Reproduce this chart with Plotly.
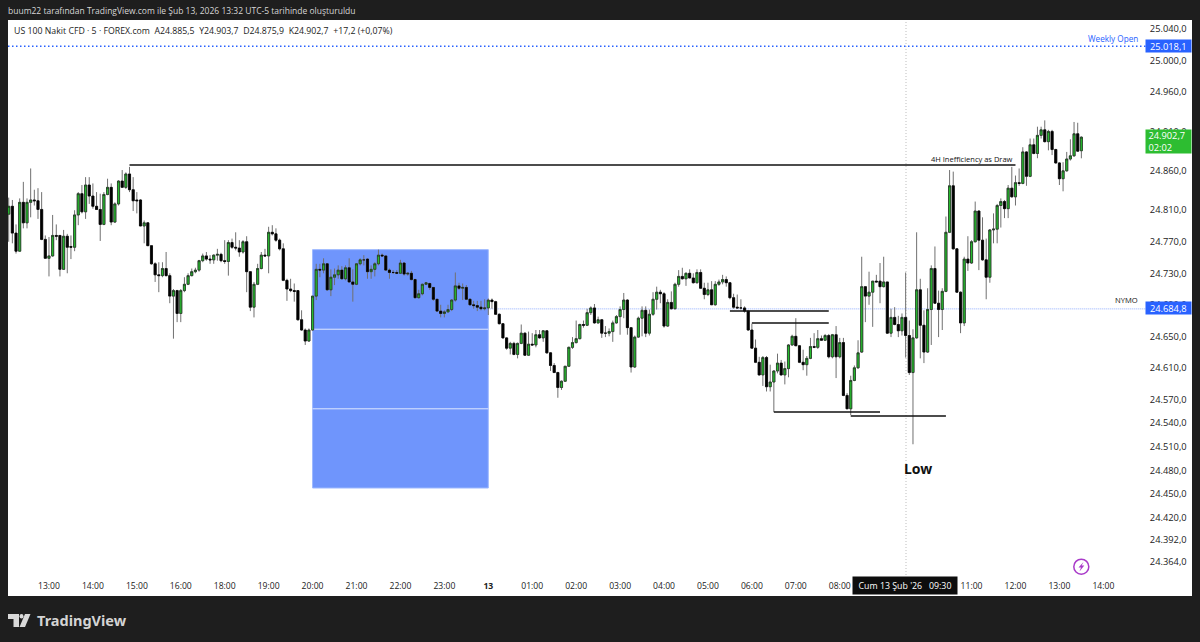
import pandas as pd
import plotly.graph_objects as go

opens = [
24805,24815,24781,24758,24820,24794,24820,24823,24822,24811,
24773,24749,24752,24778,24778,24735,24777,24764,24763,24804,
24831,24808,24842,24828,24815,24811,24792,24830,24839,24795,
24818,24847,24839,24856,24836,24823,24823,24790,24794,24765,
24742,24728,24727,24736,24727,24701,24708,24679,24708,24716,
24727,24732,24734,24746,24752,24748,24747,24753,24754,24746,
24745,24769,24763,24762,24757,24770,24732,24687,24716,24736,
24753,24752,24782,24780,24772,24761,24721,24710,24708,24708,
24671,24658,24644,24658,24701,24735,24734,24742,24709,24725,
24728,24734,24723,24737,24719,24716,24742,24747,24748,24732,
24735,24742,24753,24752,24734,24731,24731,24730,24743,24729,
24730,24722,24699,24704,24716,24717,24712,24697,24682,24679,
24681,24684,24696,24714,24711,24712,24697,24690,24689,24687,
24685,24686,24696,24694,24678,24666,24648,24635,24641,24627,
24641,24654,24626,24640,24639,24652,24648,24657,24629,24613,
24604,24585,24593,24612,24636,24642,24647,24665,24664,24680,
24686,24667,24671,24654,24654,24656,24667,24675,24684,24696,
24661,24611,24649,24673,24683,24654,24678,24697,24706,24704,
24663,24693,24685,24716,24726,24723,24730,24724,24718,24731,
24711,24703,24709,24690,24716,24719,24722,24718,24699,24687,
24686,24686,24682,24658,24635,24617,24601,24623,24586,24592,
24606,24616,24601,24609,24639,24650,24638,24617,24614,24622,
24637,24636,24647,24645,24651,24624,24652,24624,24642,24575,
24558,24594,24610,24630,24713,24701,24706,24720,24720,24713,
24719,24654,24674,24665,24657,24674,24651,24604,24648,24709,
24664,24630,24684,24736,24692,24684,24707,24782,24841,24761,
24706,24667,24748,24743,24770,24809,24772,24747,24725,24785,
24786,24816,24821,24812,24838,24827,24845,24844,24884,24853,
24893,24882,24905,24912,24897,24910,24887,24870,24850,24860,
24875,24879,24907,24885.5]
closes = [
24815,24781,24758,24820,24794,24820,24823,24822,24811,24773,
24749,24752,24778,24777,24735,24777,24763,24763,24804,24831,
24808,24842,24828,24815,24811,24792,24830,24839,24795,24818,
24847,24839,24856,24836,24822,24822,24790,24794,24765,24742,
24728,24727,24736,24727,24701,24708,24679,24708,24716,24727,
24732,24734,24746,24752,24748,24747,24753,24754,24746,24745,
24769,24763,24762,24757,24770,24732,24687,24716,24736,24753,
24752,24782,24780,24772,24761,24721,24710,24708,24707,24671,
24658,24644,24658,24701,24735,24734,24742,24709,24725,24728,
24734,24723,24737,24719,24716,24742,24747,24747,24732,24735,
24742,24753,24752,24734,24731,24731,24730,24743,24729,24730,
24722,24699,24704,24716,24718,24712,24697,24682,24679,24681,
24684,24696,24714,24711,24712,24697,24690,24689,24687,24685,
24686,24696,24694,24678,24666,24648,24635,24641,24627,24641,
24654,24626,24640,24639,24652,24648,24657,24629,24613,24604,
24585,24593,24612,24636,24642,24647,24665,24664,24680,24686,
24667,24671,24654,24654,24656,24667,24675,24684,24696,24661,
24611,24649,24673,24683,24654,24678,24697,24706,24704,24663,
24693,24685,24716,24726,24723,24730,24724,24718,24731,24711,
24703,24709,24690,24716,24719,24722,24718,24699,24687,24686,
24686,24682,24658,24635,24617,24601,24623,24586,24592,24606,
24616,24601,24609,24639,24650,24638,24617,24614,24622,24637,
24636,24647,24645,24651,24624,24652,24624,24642,24575,24558,
24594,24610,24629,24713,24701,24706,24720,24719,24713,24719,
24654,24674,24665,24657,24674,24651,24604,24648,24709,24664,
24630,24684,24736,24692,24684,24707,24782,24841,24761,24706,
24667,24748,24743,24770,24809,24772,24747,24725,24785,24786,
24816,24821,24812,24838,24827,24845,24844,24884,24853,24893,
24882,24905,24912,24897,24910,24887,24870,24850,24860,24875,
24879,24907,24885,24902.7]
highs = [
24826,24823,24792,24825,24846,24825,24863,24836,24838,24833,
24778,24776,24804,24792,24778,24785,24780,24778,24810,24833,
24842,24852,24852,24844,24833,24831,24833,24850,24844,24820,
24848,24861,24858,24865,24852,24833,24824,24797,24795,24765,
24744,24744,24744,24757,24730,24710,24709,24710,24725,24730,
24736,24737,24747,24755,24757,24753,24754,24761,24756,24772,
24772,24774,24782,24772,24772,24777,24732,24719,24742,24757,
24761,24789,24791,24787,24774,24768,24723,24723,24717,24708,
24683,24660,24660,24701,24742,24742,24749,24743,24735,24736,
24740,24739,24740,24749,24735,24743,24749,24753,24749,24740,
24744,24760,24755,24752,24736,24734,24734,24747,24744,24731,
24733,24723,24709,24717,24719,24718,24712,24697,24690,24683,
24690,24697,24731,24718,24717,24715,24698,24695,24695,24695,
24697,24698,24698,24695,24679,24666,24649,24643,24643,24642,
24665,24655,24656,24654,24658,24658,24658,24658,24630,24616,
24605,24594,24612,24637,24649,24670,24666,24670,24685,24688,
24691,24675,24672,24663,24660,24670,24677,24688,24705,24697,
24661,24651,24675,24688,24688,24684,24706,24713,24709,24706,
24697,24707,24718,24734,24737,24731,24735,24730,24735,24735,
24718,24718,24720,24720,24722,24728,24726,24719,24704,24703,
24697,24688,24682,24666,24646,24624,24625,24625,24614,24607,
24628,24620,24618,24640,24652,24673,24639,24633,24625,24648,
24654,24658,24651,24653,24653,24653,24663,24648,24648,24578,
24600,24613,24645,24751,24713,24732,24720,24728,24743,24751,
24719,24685,24687,24676,24679,24731,24670,24659,24782,24723,
24683,24711,24740,24764,24708,24711,24802,24861,24859,24762,
24707,24751,24777,24772,24821,24810,24801,24774,24786,24806,
24818,24825,24823,24842,24865,24854,24863,24890,24885,24901,
24901,24916,24916,24924,24912,24912,24888,24871,24871,24884,
24900,24922,24921,24903.7]
lows = [
24770,24768,24755,24758,24787,24787,24801,24816,24799,24772,
24749,24726,24751,24772,24726,24735,24730,24748,24758,24791,
24806,24799,24818,24812,24811,24771,24791,24829,24791,24794,
24816,24839,24837,24833,24809,24806,24790,24768,24765,24741,
24719,24706,24725,24726,24692,24647,24668,24668,24706,24715,
24726,24730,24732,24744,24746,24742,24742,24746,24744,24742,
24727,24761,24759,24751,24755,24706,24682,24674,24715,24735,
24751,24730,24778,24770,24759,24720,24695,24706,24694,24670,
24657,24639,24643,24657,24696,24725,24730,24708,24701,24715,
24723,24722,24721,24718,24694,24715,24740,24740,24723,24723,
24726,24740,24751,24733,24723,24729,24729,24730,24727,24727,
24721,24698,24698,24702,24715,24709,24695,24681,24674,24674,
24680,24682,24694,24709,24696,24696,24689,24685,24682,24683,
24683,24677,24685,24677,24665,24647,24633,24627,24626,24622,
24640,24625,24625,24638,24636,24647,24643,24628,24606,24604,
24572,24582,24592,24611,24634,24641,24646,24661,24663,24677,
24666,24666,24648,24649,24650,24643,24666,24652,24673,24652,
24604,24610,24648,24650,24649,24651,24676,24684,24692,24661,
24662,24684,24684,24713,24722,24714,24724,24717,24717,24710,
24697,24701,24690,24689,24714,24716,24713,24697,24685,24685,
24684,24680,24657,24635,24616,24600,24587,24580,24580,24554,
24603,24600,24589,24598,24638,24638,24616,24607,24600,24621,
24635,24634,24645,24644,24622,24622,24597,24622,24574,24558,
24550,24593,24609,24629,24668,24690,24662,24719,24692,24712,
24653,24649,24664,24649,24651,24623,24601,24513,24647,24622,
24616,24629,24639,24691,24649,24658,24706,24781,24760,24705,
24654,24663,24733,24742,24769,24734,24746,24697,24718,24768,
24768,24788,24800,24800,24826,24816,24841,24843,24841,24852,
24881,24876,24901,24896,24886,24880,24869,24842,24834,24859,
24873,24878,24884,24875.9]

price_ticks = [25040,25000,24960,24910,24860,24810,24770,24730,24690,24650,
               24610,24570,24540,24510,24480,24450,24420,24392,24364]
time_ticks = ["02-12 13:00","02-12 14:00","02-12 15:00","02-12 16:00","02-12 18:00","02-12 19:00",
              "02-12 20:00","02-12 21:00","02-12 22:00","02-12 23:00","02-13 00:00","02-13 01:00",
              "02-13 02:00","02-13 03:00","02-13 04:00","02-13 05:00","02-13 06:00","02-13 07:00",
              "02-13 08:00","02-13 11:00","02-13 12:00","02-13 13:00","02-13 14:00"]
time_labels = ["13:00","14:00","15:00","16:00","18:00","19:00","20:00","21:00","22:00","23:00",
               "<b>13</b>","01:00","02:00","03:00","04:00","05:00","06:00","07:00","08:00",
               "11:00","12:00","13:00","14:00"]

def fmt(v):
    s = f"{v:,.1f}"
    return s.replace(",", "#").replace(".", ",").replace("#", ".")

stamps = pd.date_range("2026-02-12 12:05", "2026-02-13 14:30", freq="5min")
stamps = stamps[stamps.hour != 17]
times = [t.strftime("%m-%d %H:%M") for t in stamps]
bars = times[:len(opens)]

L, R, T, B = 8, 1146, 20, 575
Y_TOP, Y_BOT = 25051.4, 24347.1
X0, DX = 8.7, 3.661
xr = [(L - X0) / DX, (R - X0) / DX]
def px(x): return (x - L) / (R - L)
def py(y): return (B - y) / (B - T)
def idx(t): return times.index(t)

body_hi = [max(o, c) for o, c in zip(opens, closes)]
body_lo = [min(o, c) for o, c in zip(opens, closes)]

GREEN, BLACK, WICK, BLUE = "#26bb2e", "#000000", "#707070", "#2962ff"
FONT = "Open Sans"

fig = go.Figure()
fig.add_trace(go.Candlestick(x=bars, open=opens, high=highs, low=lows, close=closes,
    whiskerwidth=0, increasing=dict(line=dict(color=WICK, width=1), fillcolor=GREEN),
    decreasing=dict(line=dict(color=WICK, width=1), fillcolor=BLACK), hoverinfo="skip", showlegend=False))
fig.add_trace(go.Candlestick(x=bars, open=opens, high=body_hi, low=body_lo, close=closes,
    whiskerwidth=0, increasing=dict(line=dict(color="#1f1f1f", width=0.6), fillcolor=GREEN),
    decreasing=dict(line=dict(color="#000000", width=0.6), fillcolor=BLACK), hoverinfo="skip", showlegend=False))

shapes = [
    dict(type="rect", xref="paper", yref="paper", x0=px(8), x1=px(1192), y0=py(20), y1=py(596),
         fillcolor="#ffffff", line_width=0, layer="below"),
    dict(type="rect", xref="x", yref="y", x0=idx("02-12 20:00"), x1=idx("02-13 00:00"), y0=24457.5, y1=24760,
         fillcolor="#6f95fc", line=dict(color="#9db8ff", width=1), layer="below"),
]
for p in (24659, 24558):
    shapes.append(dict(type="line", xref="x", yref="y", x0=idx("02-12 20:00"), x1=idx("02-13 00:00"), y0=p, y1=p,
                       line=dict(color="#dfe8ff", width=1), layer="below"))
shapes += [
    dict(type="line", xref="paper", yref="paper", x0=px(906), x1=px(906), y0=0, y1=1,
         line=dict(color="#bdbdbd", width=1, dash="1px,2px"), layer="below"),
    dict(type="line", xref="paper", yref="y", x0=0, x1=1, y0=25018.1, y1=25018.1,
         line=dict(color=BLUE, width=1.5, dash="1.5px,2.5px")),
    dict(type="line", xref="x", yref="y", x0=idx("02-13 00:00"), x1=xr[1], y0=24684.8, y1=24684.8,
         line=dict(color="#8fadff", width=1, dash="1px,1px"), layer="below"),
]
levels = [(33, 275, 24867.4), (197, 224, 24682), (203, 224, 24667), (209, 238, 24554), (230, 256, 24549)]
for a, b, p in levels:
    shapes.append(dict(type="line", xref="x", yref="y", x0=a, x1=b, y0=p, y1=p, line=dict(color="#111111", width=1.5)))

def poly(pts):
    return "M " + " L ".join(f"{px(a)} {py(b)}" for a, b in pts) + " Z"

# purple badge
shapes.append(dict(type="circle", xref="paper", yref="paper", x0=px(1073.8), x1=px(1088.8), y0=py(559.2), y1=py(574.2),
                   line=dict(color="#a93bc9", width=1.5), fillcolor="rgba(0,0,0,0)"))
shapes.append(dict(type="path", xref="paper", yref="paper",
                   path=poly([(1083.5, 562), (1078.5, 567.6), (1081, 567.6), (1079.5, 571.5), (1084.3, 565.6), (1081.7, 565.6)]),
                   fillcolor="#a93bc9", line_width=0))
# logo
shapes += [
    dict(type="path", xref="paper", yref="paper",
         path=poly([(8, 614), (19, 614), (19, 627), (13.5, 627), (13.5, 619), (8, 619)]),
         fillcolor="#d9d9d9", line_width=0),
    dict(type="circle", xref="paper", yref="paper", x0=px(19.5), x1=px(23.5), y0=py(614), y1=py(618.5),
         fillcolor="#d9d9d9", line_width=0),
    dict(type="path", xref="paper", yref="paper",
         path=poly([(25, 614), (30.5, 614), (25, 627), (19.5, 627)]),
         fillcolor="#d9d9d9", line_width=0),
]

def note(x, y, text, size=10.5, color="#222222", anchor="left", **kw):
    return dict(xref="paper", yref="paper", x=px(x), y=py(y), text=text, showarrow=False, xanchor=anchor,
                yanchor="middle", font=dict(family=kw.pop("family", FONT), size=size, color=color), **kw)

def tag(y_mid, h, text, color, align="center"):
    return dict(xref="paper", yref="paper", x=px(1145), y=py(y_mid), text=text, showarrow=False, xanchor="left",
                yanchor="middle", width=44.5, height=h, bgcolor=color, borderpad=0, align=align,
                font=dict(family=FONT, size=9.3, color="#ffffff"))

annotations = [
    note(6, 11, "buum22 tarafından TradingView.com ile Şub 13, 2026 13:32 UTC-5 tarihinde oluşturuldu", 8.5, "#d6d6d6"),
    note(12, 31, "US 100 Nakit CFD · 5 · FOREX.com  A24.885,5  Y24.903,7  D24.875,9  K24.902,7  +17,2 (+0,07%)", 8.75, "#1c1c1c"),
    note(1140, 39, "Weekly Open", 8.2, BLUE, "right"),
    note(1140, 300, "NYMO", 7.6, "#111111", "right"),
    note(1015, 159, "4H Inefficiency as Draw", 7.5, "#111111", "right"),
    note(918, 468, "<b>Low</b>", 14, "#111111", "center", family="Noto Sans"),
    tag(46, 12, fmt(25018.1), BLUE),
    tag(308, 12, fmt(24684.8), BLUE),
    tag(141.5, 23, "\u00a0" + fmt(24902.7) + "<br>\u00a0" + "02:02", "#2dbd31", "left"),
    note(905, 585, "Cum 13 Şub '26   09:30", 8.8, "#ffffff", "center", bgcolor="#0d0d0d", width=104, height=17, borderpad=0),
    note(35, 620, "<b>TradingView</b>", 14.5, "#d4d4d4", "left", family="Noto Sans"),
]

fig.update_layout(
    width=1200, height=642, margin=dict(l=L, r=1200 - R, t=T, b=642 - B, autoexpand=False), autosize=False,
    paper_bgcolor="#1e1e1e", plot_bgcolor="#ffffff", showlegend=False, boxgap=0.18,
    font=dict(family=FONT, size=9, color="#222222"),
    shapes=shapes, annotations=annotations,
    xaxis=dict(type="category", range=xr, rangeslider=dict(visible=False), showgrid=False, zeroline=False,
               tickmode="array", tickvals=time_ticks, ticktext=time_labels, ticks="outside", ticklen=3,
               tickcolor="rgba(0,0,0,0)", showline=False, tickangle=0, categoryorder="array", categoryarray=times,
               tickfont=dict(size=8.6, color="#222222")),
    yaxis=dict(side="right", range=[Y_BOT, Y_TOP], showgrid=False, zeroline=False, showline=False,
               tickmode="array", tickvals=price_ticks, ticktext=[fmt(v) for v in price_ticks],
               ticks="outside", ticklen=1, tickcolor="rgba(0,0,0,0)", tickfont=dict(size=9.3, color="#222222")),
)

assert len(opens) == len(closes) == len(highs) == len(lows) == 294

fig.write_html("out.html", config={"displayModeBar": False},
               post_script="document.body.style.margin='0';document.body.style.background='#1e1e1e';document.documentElement.style.overflow='hidden';")
